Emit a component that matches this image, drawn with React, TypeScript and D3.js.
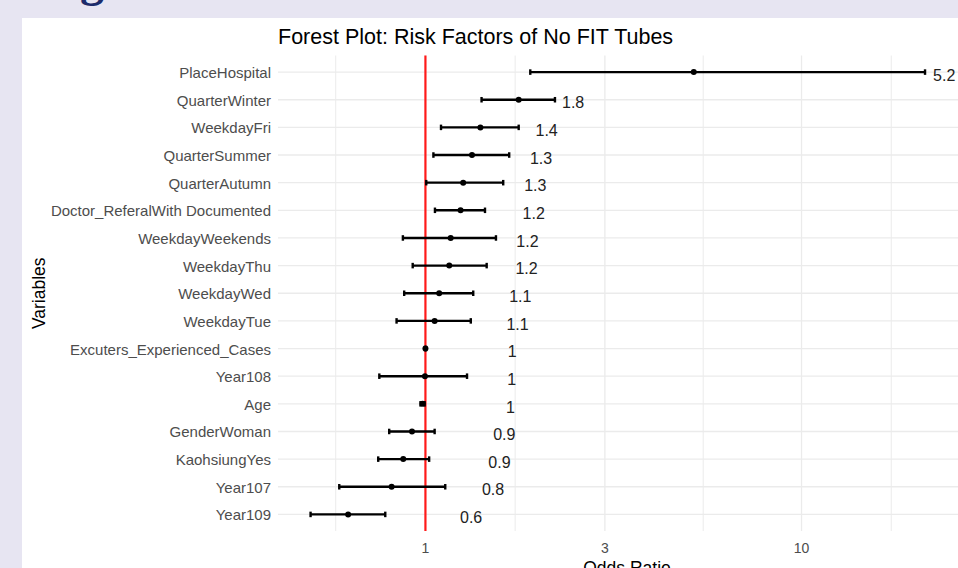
import React from 'react';
import * as d3 from 'd3';

// values
const variables = [
  'PlaceHospital',
  'QuarterWinter',
  'WeekdayFri',
  'QuarterSummer',
  'QuarterAutumn',
  'Doctor_ReferalWith Documented',
  'WeekdayWeekends',
  'WeekdayThu',
  'WeekdayWed',
  'WeekdayTue',
  'Excuters_Experienced_Cases',
  'Year108',
  'Age',
  'GenderWoman',
  'KaohsiungYes',
  'Year107',
  'Year109',
];
const oddsRatio = [5.17, 1.77, 1.4, 1.33, 1.26, 1.24, 1.167, 1.157, 1.088, 1.058, 1.0, 0.997, 0.983, 0.921, 0.873, 0.813, 0.623];
const lowerCI = [1.9, 1.41, 1.1, 1.05, 1.005, 1.06, 0.871, 0.925, 0.878, 0.838, 0.997, 0.754, 0.97, 0.801, 0.749, 0.59, 0.495];
const upperCI = [21.3, 2.21, 1.77, 1.67, 1.61, 1.44, 1.54, 1.455, 1.34, 1.32, 1.004, 1.29, 0.995, 1.058, 1.023, 1.129, 0.782];
const xTicks = [1, 3, 10];
const xDomain = [0.4055, 29.1];

const FONT = '"Liberation Sans", Arial, Helvetica, sans-serif';
const GRID = '#ebebeb';

const App = () => {
  const W = 958;
  const H = 568;
  const panel = { left: 278, right: 976, top: 55.5, bottom: 531 };

  const x = d3.scaleLog().domain(xDomain).range([panel.left, panel.right]);
  const y = d3.scalePoint<string>().domain(variables).range([panel.top, panel.bottom]).padding(0.6);
  const capH = y.step() * 0.2;

  // minor breaks: geometric midpoints between majors (extended one step on each side)
  const ratio = xTicks[1] / xTicks[0];
  const ext = [xTicks[0] / ratio, ...xTicks, xTicks[xTicks.length - 1] * ratio];
  const minor = d3.pairs(ext).map(([a, b]) => Math.sqrt(a * b));

  const rows = variables.map((v, i) => ({
    name: v,
    or: oddsRatio[i],
    lo: lowerCI[i],
    hi: upperCI[i],
    label: String(Math.round(oddsRatio[i] * 10) / 10),
  }));

  return (
    <svg width={W} height={H} style={{ position: 'fixed', left: 0, top: 0 }}>
      <rect x={0} y={0} width={W} height={H} fill="#e7e5f2" />
      <text x={80} y={-4} fontFamily='"Liberation Serif", serif' fontSize={48} fontWeight="bold" fill="#1c2b6b">
        g
      </text>
      <rect x={22} y={18} width={W - 22} height={H - 18} fill="#ffffff" />

      {/* grid */}
      {minor.map(m => (
        <line key={'mn' + m} x1={x(m)} x2={x(m)} y1={panel.top} y2={panel.bottom} stroke={GRID} strokeWidth={1} />
      ))}
      {xTicks.map(t => (
        <line key={'mj' + t} x1={x(t)} x2={x(t)} y1={panel.top} y2={panel.bottom} stroke={GRID} strokeWidth={1.3} />
      ))}
      {variables.map(v => (
        <line key={'hg' + v} x1={panel.left} x2={panel.right} y1={y(v)} y2={y(v)} stroke={GRID} strokeWidth={1.3} />
      ))}

      {/* reference line at OR = 1 */}
      <line x1={x(1)} x2={x(1)} y1={panel.top} y2={panel.bottom} stroke="#ff1a1a" strokeWidth={2.2} />

      {/* error bars */}
      {rows.map(d => {
        const cy = y(d.name) as number;
        return (
          <g key={'eb' + d.name} stroke="#000" strokeWidth={2.4}>
            <line x1={x(d.lo)} x2={x(d.hi)} y1={cy} y2={cy} />
            <line x1={x(d.lo)} x2={x(d.lo)} y1={cy - capH / 2} y2={cy + capH / 2} />
            <line x1={x(d.hi)} x2={x(d.hi)} y1={cy - capH / 2} y2={cy + capH / 2} />
          </g>
        );
      })}
      {rows.map(d => (
        <circle key={'pt' + d.name} cx={x(d.or)} cy={y(d.name)} r={3} fill="#000" />
      ))}

      {/* odds ratio labels */}
      {rows.map(d => {
        const cy = (y(d.name) as number) + 8.7;
        const pos = d.or + 0.7;
        const inside = pos <= d.hi;
        return (
          <text
            key={'lb' + d.name}
            x={inside ? x(d.hi) + 8 : x(pos)}
            y={cy}
            textAnchor={inside ? 'start' : 'middle'}
            fontFamily={FONT}
            fontSize={16}
            fill="#222"
          >
            {d.label}
          </text>
        );
      })}

      {/* y axis labels */}
      {variables.map(v => (
        <text key={'yl' + v} x={271} y={(y(v) as number) + 6} textAnchor="end" fontFamily={FONT} fontSize={15} fill="#4d4d4d">
          {v}
        </text>
      ))}

      {/* x axis labels */}
      {xTicks.map(t => (
        <text key={'xl' + t} x={x(t)} y={panel.bottom + 21.5} textAnchor="middle" fontFamily={FONT} fontSize={14} fill="#4d4d4d">
          {t}
        </text>
      ))}

      <text x={panel.left} y={44} fontFamily={FONT} fontSize={21.5} fill="#000">
        Forest Plot: Risk Factors of No FIT Tubes
      </text>
      <text x={(panel.left + panel.right) / 2} y={574} textAnchor="middle" fontFamily={FONT} fontSize={17.5} fill="#000">
        Odds Ratio
      </text>
      <text
        transform={`translate(45,${(panel.top + panel.bottom) / 2}) rotate(-90)`}
        textAnchor="middle"
        fontFamily={FONT}
        fontSize={17.5}
        fill="#000"
      >
        Variables
      </text>
    </svg>
  );
};

export default App;
